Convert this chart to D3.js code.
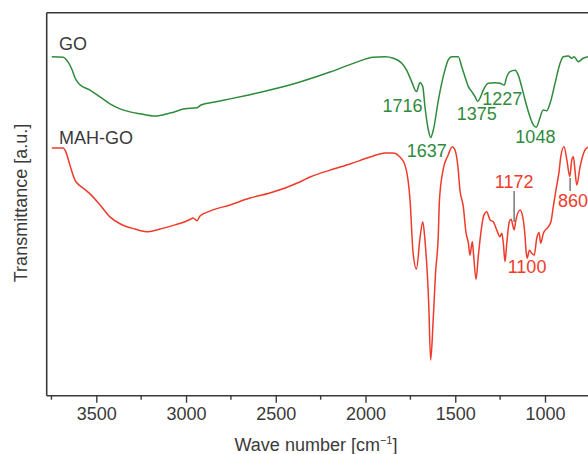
<!DOCTYPE html>
<html>
<head>
<meta charset="utf-8">
<script src="https://cdn.jsdelivr.net/npm/d3@7"></script>
<style>
  html, body { margin: 0; padding: 0; background: #fff; }
  svg { display: block; }
  text { font-family: "Liberation Sans", Arial, Helvetica, sans-serif; }
</style>
</head>
<body>
<svg id="chart" width="588" height="454"></svg>
<script>
// FTIR spectra of GO and MAH-GO (transmittance, arbitrary units)
const goWavenumber = [3748, 3685, 3657, 3635, 3619, 3596, 3535, 3479, 3424, 3368, 3312, 3257, 3173, 3089, 3006, 2939, 2928, 2917, 2839, 2755, 2644, 2533, 2366, 2198, 2049, 1958, 1891, 1845, 1798, 1771, 1743, 1716, 1697, 1681, 1669, 1650, 1637, 1622, 1594, 1567, 1539, 1520, 1483, 1464, 1446, 1427, 1408, 1390, 1375, 1362, 1344, 1316, 1279, 1251, 1227, 1213, 1195, 1167, 1149, 1130, 1111, 1087, 1065, 1048, 1032, 1010, 991, 972, 944, 916, 898, 870, 851, 838, 815, 787, 760];
const goValue = [88.5, 88.4, 87.1, 85.1, 83.0, 81.4, 79.8, 78.0, 76.2, 74.9, 74.1, 73.6, 73.0, 73.8, 74.9, 75.2, 75.5, 75.9, 76.7, 77.5, 78.6, 79.8, 81.9, 84.5, 87.1, 88.4, 88.5, 88.1, 86.8, 85.0, 82.0, 79.4, 81.7, 80.7, 75.5, 69.4, 67.4, 69.4, 77.2, 83.3, 87.7, 88.5, 88.5, 85.9, 83.3, 80.7, 79.4, 78.1, 76.8, 77.7, 79.8, 81.6, 81.7, 81.6, 81.1, 83.3, 84.6, 85.0, 83.7, 80.7, 77.2, 73.3, 70.7, 70.1, 72.0, 74.6, 74.4, 76.3, 81.6, 86.8, 88.5, 88.7, 88.1, 88.5, 87.2, 88.1, 88.5];

const mahWavenumber = [3748, 3685, 3669, 3647, 3619, 3591, 3568, 3535, 3479, 3424, 3368, 3284, 3212, 3145, 3062, 3006, 2978, 2961, 2939, 2922, 2867, 2755, 2644, 2533, 2366, 2309, 2198, 2086, 1975, 1891, 1847, 1808, 1780, 1763, 1752, 1735, 1716, 1696, 1681, 1669, 1648, 1637, 1623, 1610, 1595, 1588, 1568, 1540, 1516, 1502, 1485, 1474, 1455, 1440, 1427, 1418, 1405, 1400, 1384, 1372, 1353, 1340, 1325, 1306, 1288, 1269, 1251, 1241, 1232, 1223, 1213, 1199, 1189, 1172, 1162, 1139, 1124, 1111, 1106, 1099, 1087, 1074, 1060, 1046, 1033, 1024, 1009, 982, 967, 954, 939, 922, 912, 894, 878, 862, 851, 842, 833, 823, 805, 777, 760];
const mahValue = [64.7, 64.7, 63.6, 60.2, 56.3, 54.8, 54.0, 52.7, 49.8, 46.7, 44.9, 43.5, 42.8, 43.5, 44.6, 45.4, 46.0, 46.4, 45.7, 46.9, 48.2, 49.8, 51.6, 52.9, 55.8, 57.1, 58.9, 60.5, 62.3, 63.4, 63.4, 62.3, 60.2, 56.3, 51.1, 37.3, 33.1, 41.4, 45.4, 40.7, 24.2, 9.3, 19.7, 32.0, 41.4, 51.1, 58.9, 62.8, 65.0, 64.2, 59.7, 53.7, 49.3, 42.5, 39.9, 36.7, 40.2, 38.0, 30.4, 36.3, 44.1, 47.2, 48.0, 45.9, 45.4, 43.3, 41.5, 42.4, 39.8, 35.0, 39.8, 45.4, 46.1, 43.3, 45.9, 48.5, 46.7, 41.5, 38.0, 35.9, 38.0, 37.2, 36.7, 41.1, 42.6, 39.8, 42.4, 44.1, 45.4, 49.3, 53.7, 58.4, 62.4, 65.0, 61.5, 57.2, 61.5, 62.4, 58.9, 55.0, 59.7, 64.2, 64.9];

const majorTicks = [3500, 3000, 2500, 2000, 1500, 1000];
const minorTicks = [3750, 3250, 2750, 2250, 1750, 1250];

const seriesNames = ["GO", "MAH-GO"];
const goPeaks = [1716, 1637, 1375, 1227, 1048];
const mahPeaks = [1172, 1100, 860];
const mahMarkedPeaks = [1172, 860];

const green = "#2f8a3c";
const red = "#ee3b2b";
const ink = "#3a3a3a";

const svg = d3.select("#chart");
const plotLeft = 46.7, plotTop = 12.7, plotBottom = 395.7;

// Wavenumber axis runs high to low, left to right
const x = d3.scaleLinear().domain([3500, 1000]).range([96.3, 545]);
const y = d3.scaleLinear().domain([0, 100]).range([plotBottom, plotBottom - 383]);

const line = d3.line()
  .x(d => x(d[0]))
  .y(d => y(d[1]))
  .curve(d3.curveMonotoneX);

const goData = d3.zip(goWavenumber, goValue);
const mahData = d3.zip(mahWavenumber, mahValue);

svg.append("path").datum(goData)
  .attr("d", line).attr("fill", "none")
  .attr("stroke", green).attr("stroke-width", 1.5).attr("stroke-linejoin", "round");
svg.append("path").datum(mahData)
  .attr("d", line).attr("fill", "none")
  .attr("stroke", red).attr("stroke-width", 1.5).attr("stroke-linejoin", "round");

// Frame: left and top edges, bottom axis
svg.append("line").attr("x1", plotLeft).attr("x2", plotLeft).attr("y1", plotTop).attr("y2", plotBottom)
  .attr("stroke", ink).attr("stroke-width", 1.6);
svg.append("line").attr("x1", plotLeft).attr("x2", 600).attr("y1", plotTop).attr("y2", plotTop)
  .attr("stroke", ink).attr("stroke-width", 1.6);

const xAxis = d3.axisBottom(x).tickValues(majorTicks).tickSize(7).tickPadding(5).tickFormat(d3.format("d"));
const gx = svg.append("g").attr("transform", `translate(0,${plotBottom})`).call(xAxis);
gx.select(".domain").remove();
gx.selectAll(".tick line").attr("stroke", ink).attr("stroke-width", 1.4);
gx.selectAll(".tick text").attr("fill", ink).attr("font-size", 18)
  .attr("font-family", "Liberation Sans, Arial, sans-serif");
gx.selectAll(".minor").data(minorTicks).enter().append("line")
  .attr("class", "minor")
  .attr("x1", d => x(d)).attr("x2", d => x(d)).attr("y1", 0).attr("y2", 4)
  .attr("stroke", ink).attr("stroke-width", 1.4);
svg.append("line").attr("x1", plotLeft).attr("x2", 600).attr("y1", plotBottom).attr("y2", plotBottom)
  .attr("stroke", ink).attr("stroke-width", 1.6);

// Axis titles
const xt = svg.append("text").attr("x", 316).attr("y", 451).attr("text-anchor", "middle")
  .attr("font-size", 18).attr("fill", ink);
xt.append("tspan").text("Wave number [cm");
xt.append("tspan").attr("font-size", 11).attr("dy", -7).text("−1");
xt.append("tspan").attr("dy", 7).text("]");

svg.append("text").attr("transform", "translate(27,203) rotate(-90)")
  .attr("text-anchor", "middle").attr("font-size", 18).attr("fill", ink)
  .text("Transmittance [a.u.]");

// Series names
svg.append("text").attr("x", 59).attr("y", 50).attr("font-size", 18).attr("fill", ink).text(seriesNames[0]);
svg.append("text").attr("x", 59).attr("y", 144).attr("font-size", 18).attr("fill", ink).text(seriesNames[1]);

// Peak labels: horizontal shift and baseline for each band
const goLabelPos = { 1716: [-14, 112], 1637: [-4, 157], 1375: [-1, 120], 1227: [-2, 105], 1048: [-1, 143] };
const mahLabelPos = { 1172: [0, 188], 1100: [0, 273], 860: [3, 207] };

svg.selectAll(".go-peak").data(goPeaks).enter().append("text")
  .attr("class", "go-peak")
  .attr("x", d => x(d) + goLabelPos[d][0]).attr("y", d => goLabelPos[d][1])
  .attr("text-anchor", "middle").attr("font-size", 18).attr("fill", green)
  .text(d => d);

svg.selectAll(".mah-peak").data(mahPeaks).enter().append("text")
  .attr("class", "mah-peak")
  .attr("x", d => x(d) + mahLabelPos[d][0]).attr("y", d => mahLabelPos[d][1])
  .attr("text-anchor", "middle").attr("font-size", 18).attr("fill", red)
  .text(d => d);

// Grey leader lines for the marked MAH-GO bands
const markerSpan = { 1172: [191, 222], 860: [178, 191] };
svg.selectAll(".marker").data(mahMarkedPeaks).enter().append("line")
  .attr("class", "marker")
  .attr("x1", d => x(d)).attr("x2", d => x(d))
  .attr("y1", d => markerSpan[d][0]).attr("y2", d => markerSpan[d][1])
  .attr("stroke", "#808080").attr("stroke-width", 1.6);
</script>
</body>
</html>
